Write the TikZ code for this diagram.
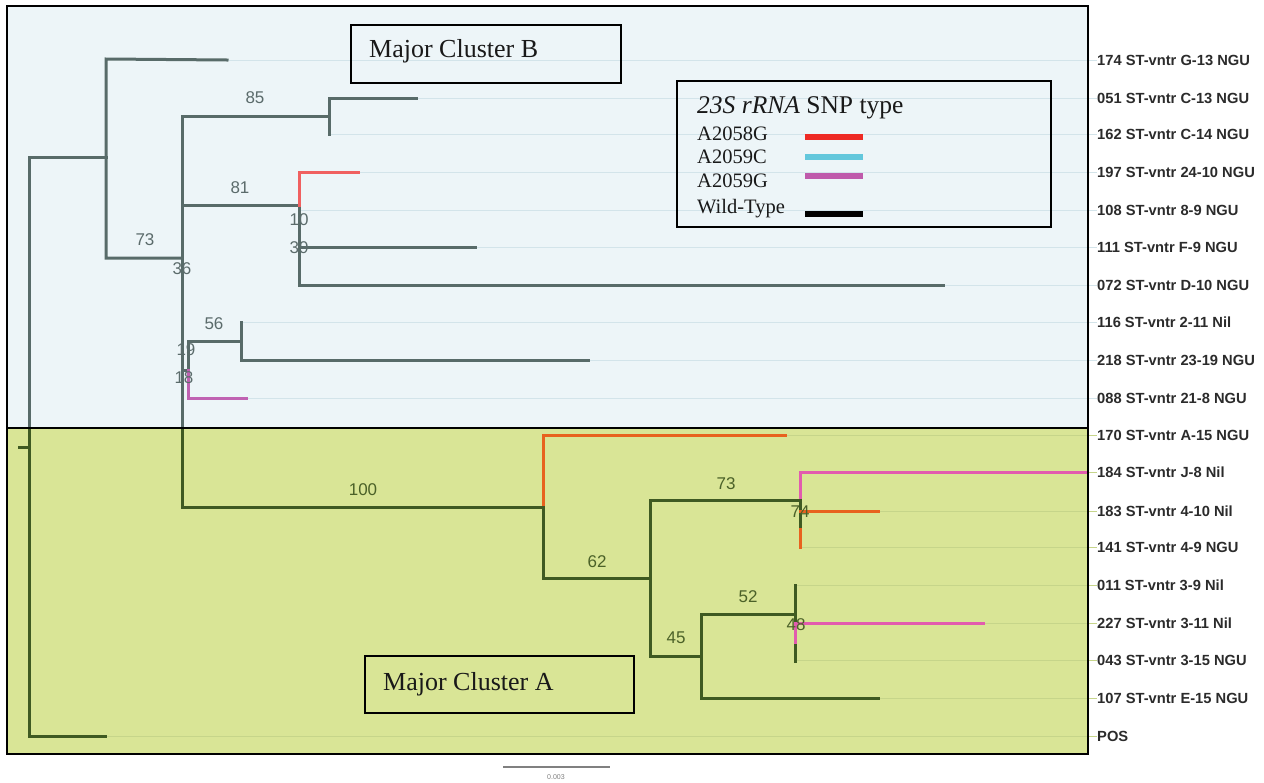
\documentclass[tikz,border=0pt]{standalone}
\usepackage{fontspec}
\newfontfamily\lsans{Liberation Sans}
\newfontfamily\lserif{Liberation Serif}
\definecolor{bluebg}{HTML}{EDF5F8}
\definecolor{greenbg}{HTML}{D9E596}
\definecolor{brgray}{HTML}{586B69}
\definecolor{brgreen}{HTML}{3F5A22}
\definecolor{brred}{HTML}{F06060}
\definecolor{brorange}{HTML}{E8621E}
\definecolor{brpinkB}{HTML}{C062B2}
\definecolor{brpinkA}{HTML}{E25BAE}
\definecolor{guideB}{HTML}{D3E4EA}
\definecolor{guideA}{HTML}{C6D58A}
\definecolor{lgred}{HTML}{EE2A24}
\definecolor{lgcyan}{HTML}{63C7DC}
\definecolor{lgpurple}{HTML}{BF5AAB}
\definecolor{bsB}{HTML}{5B6B6B}
\definecolor{bsA}{HTML}{4B6128}
\definecolor{tipcol}{HTML}{2B2B2B}
\begin{document}
\begin{tikzpicture}[x=1pt,y=-1pt,
  br/.style={line width=3pt,line cap=rect,line join=miter},
  brB/.style={br,brgray},
  brA/.style={br,brgreen},
  bsnumB/.style={font=\lsans\fontsize{17}{17}\selectfont,text=bsB,inner sep=0pt},
  bsnumA/.style={font=\lsans\fontsize{17}{17}\selectfont,text=bsA,inner sep=0pt},
  tiplab/.style={anchor=west,inner sep=0pt,font=\lsans\bfseries\fontsize{14.7}{14.7}\selectfont,text=tipcol},
  clusterbox/.style={draw=black,line width=1.8pt},
  clustertxt/.style={anchor=west,inner sep=0pt,font=\lserif\fontsize{26}{26}\selectfont,text=black!90},
  lgtxt/.style={anchor=base west,inner sep=0pt,font=\lserif\fontsize{20.5}{20.5}\selectfont,text=black!90},
  swatch/.style={line width=6pt}]
\useasboundingbox (0,0) rectangle (1264,782);
\fill[white] (0,0) rectangle (1264,782);
% regions
\fill[bluebg] (7,6) rectangle (1088,428);
\fill[greenbg] (7,428) rectangle (1088,754);
% tips and labels
\foreach \id/\yy/\tx/\gc/\txt in {
  a/60/227/guideB/174 ST-vntr G-13 NGU,
  b/98/416/guideB/051 ST-vntr C-13 NGU,
  c/134/329/guideB/162 ST-vntr C-14 NGU,
  d/172/358/guideB/197 ST-vntr 24-10 NGU,
  e/210/299/guideB/108 ST-vntr 8-9 NGU,
  f/247/475/guideB/111 ST-vntr F-9 NGU,
  g/285/943/guideB/072 ST-vntr D-10 NGU,
  h/322/241/guideB/116 ST-vntr 2-11 Nil,
  i/360/588/guideB/218 ST-vntr 23-19 NGU,
  j/398/246/guideB/088 ST-vntr 21-8 NGU,
  k/435/785/guideA/170 ST-vntr A-15 NGU,
  l/472/1086/guideA/184 ST-vntr J-8 Nil,
  m/511/878/guideA/183 ST-vntr 4-10 Nil,
  n/547/800/guideA/141 ST-vntr 4-9 NGU,
  o/585/795/guideA/011 ST-vntr 3-9 Nil,
  p/623/983/guideA/227 ST-vntr 3-11 Nil,
  q/660/795/guideA/043 ST-vntr 3-15 NGU,
  r/698/878/guideA/107 ST-vntr E-15 NGU,
  s/736/105/guideA/POS}{
  \coordinate (tip\id) at (\tx,\yy);
  \node[tiplab] (lab\id) at (1097,\yy) {\txt};
  \draw[\gc,line width=1pt] (tip\id) -- (lab\id.west);
}
% ---- tree, cluster B part ----
\draw[brB] (29,428) -- (29,157) -- (106,157);
\draw[brB] (182,258) -- (106,258) -- (106,59) -- (tipa);
\draw[brB] (182,428) -- (182,116) -- (329,116);
\draw[brB] (329,134) -- (329,98) -- (tipb);
\draw[brB] (182,205) -- (299,205) -- (299,285) -- (tipg);
\draw[brB] (299,247) -- (tipf);
\draw[br,brred] (299,205) -- (299,172) -- (tipd);
\draw[brB] (182,370) -- (188,370) -- (188,341) -- (241,341);
\draw[brB] (241,322) -- (241,360) -- (tipi);
\draw[br,brpinkB] (188,370) -- (188,398) -- (tipj);
% ---- tree, cluster A part ----
\draw[brA] (19,447) -- (29,447);
\draw[brA] (29,428) -- (29,736) -- (tips);
\draw[brA] (182,428) -- (182,507) -- (543,507);
\draw[br,brorange] (543,507) -- (543,435) -- (tipk);
\draw[brA] (543,507) -- (543,578) -- (650,578);
\draw[brA] (800,500) -- (650,500) -- (650,656) -- (701,656);
\draw[br,brpinkA] (800,500) -- (800,472) -- (tipl);
\draw[brA] (800,500) -- (800,529);
\draw[br,brorange] (800,529) -- (800,547);
\draw[br,brorange] (800,511) -- (tipm);
\draw[brA] (795,614) -- (701,614) -- (701,698) -- (tipr);
\draw[brA] (795,585) -- (795,623);
\draw[brA] (795,642) -- (795,661);
\draw[br,brpinkA] (795,623) -- (795,642);
\draw[br,brpinkA] (795,623) -- (tipp);
% bootstrap values
\node[bsnumB] (b73) at (145,240) {73};
\node[bsnumB] (b36) at (182,269) {36};
\node[bsnumB] (b85) at (255,98) {85};
\node[bsnumB] (b81) at (240,188) {81};
\node[bsnumB] (b10) at (299,220) {10};
\node[bsnumB] (b39) at (299,248) {39};
\node[bsnumB] (b56) at (214,324) {56};
\node[bsnumB] (b19) at (186,350) {19};
\node[bsnumB] (b18) at (184,378) {18};
\node[bsnumA] (b100) at (363,490) {100};
\node[bsnumA] (b62) at (597,562) {62};
\node[bsnumA] (b73a) at (726,484) {73};
\node[bsnumA] (b74) at (800,512) {74};
\node[bsnumA] (b45) at (676,638) {45};
\node[bsnumA] (b52) at (748,597) {52};
\node[bsnumA] (b48) at (796,625) {48};
% region borders
\draw[black,line width=1.5pt] (7,6) rectangle (1088,428);
\draw[black,line width=1.5pt] (7,428) rectangle (1088,754);
% cluster boxes
\draw[clusterbox] (351,25) rectangle (621,83);
\node[clustertxt] (cb) at (369,51) {Major Cluster B};
\draw[clusterbox] (365,656) rectangle (634,713);
\node[clustertxt] (ca) at (383,684) {Major Cluster A};
% legend
\draw[black,line width=1.5pt] (677,81) rectangle (1051,227);
\node[anchor=base west,inner sep=0pt,font=\lserif\fontsize{25.5}{25.5}\selectfont,text=black!90] (lgt) at (697,113) {\textit{23S rRNA} SNP type};
\node[lgtxt] (l1) at (697,140) {A2058G};
\node[lgtxt] (l2) at (697,163) {A2059C};
\node[lgtxt] (l3) at (697,187) {A2059G};
\node[lgtxt] (l4) at (697,213) {Wild-Type};
\draw[swatch,lgred] (805,137) -- (863,137);
\draw[swatch,lgcyan] (805,157) -- (863,157);
\draw[swatch,lgpurple] (805,176) -- (863,176);
\draw[swatch,black] (805,214) -- (863,214);
% scale bar
\draw[gray,line width=2pt] (503,767) -- (610,767);
\node[inner sep=0pt,font=\lsans\fontsize{7}{7}\selectfont,text=gray] (sc) at (556,777) {0.003};
\end{tikzpicture}
\end{document}
